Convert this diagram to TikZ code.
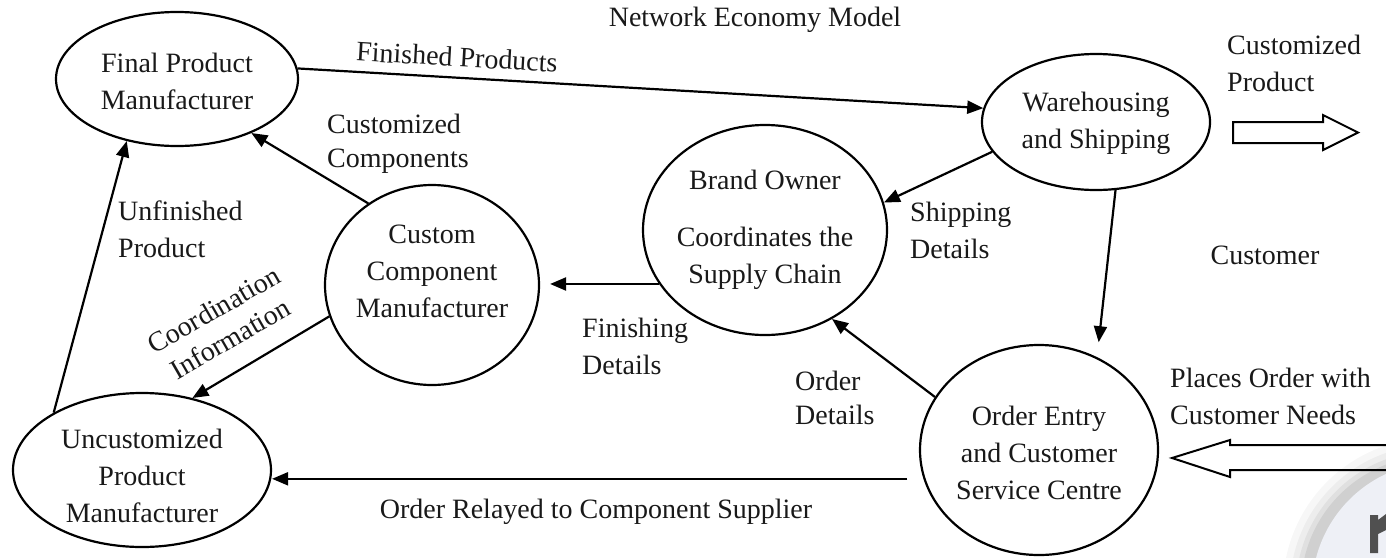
\documentclass[tikz,border=0pt]{standalone}
\usepackage{fontspec}
\setmainfont{Liberation Serif}
\usetikzlibrary{shapes.geometric,arrows.meta}
\definecolor{badgefill}{HTML}{EEF0F6}
\definecolor{glyphgray}{HTML}{505050}

\begin{document}
\begin{tikzpicture}[x=1pt,y=-1pt,
  every node/.style={font=\fontsize{28}{37}\selectfont, text=black!90},
  proc/.style={draw, ellipse, line width=2.2pt, inner sep=0pt},
  ptext/.style={align=center, inner sep=0pt},
  lbl/.style={align=left, anchor=west, inner sep=0pt},
  arr/.style={line width=2.2pt, -{Triangle[length=16pt,width=13pt]}},
  blockarrow/.style={line width=2pt, line join=miter}
]
\useasboundingbox (0,0) rectangle (1386,557);
\fill[white] (0,0) rectangle (1386,557);

% processes
\node[proc, minimum width=242pt, minimum height=134pt,
  label={[ptext, yshift=-2pt]center:{Final Product\\Manufacturer}}] (fpm) at (177,79) {};
\node[proc, minimum width=258pt, minimum height=154pt,
  label={[ptext, yshift=-6pt]center:{Uncustomized\\Product\\Manufacturer}}] (upm) at (142,470) {};
\node[proc, minimum width=214pt, minimum height=200pt,
  label={[ptext, yshift=14pt]center:{Custom\\Component\\Manufacturer}}] (ccm) at (432,285) {};
\node[proc, minimum width=244pt, minimum height=210pt,
  label={[ptext]center:{Brand Owner\\[20pt]Coordinates the\\Supply Chain}}] (bo) at (765,230) {};
\node[proc, minimum width=228pt, minimum height=136pt,
  label={[ptext, yshift=-1pt]center:{Warehousing\\and Shipping}}] (ws) at (1096,122) {};
\node[proc, minimum width=238pt, minimum height=210pt,
  label={[ptext, yshift=-3pt]center:{Order Entry\\and Customer\\Service Centre}}] (oe) at (1039,450) {};

% flows
\draw[arr] (fpm.5) -- (ws.173);
\draw[arr] (ccm.128) -- (fpm.-36);
\draw[arr] (upm.147) -- (fpm.231);
\draw[arr] (ccm.197) -- (upm.55);
\draw[arr, shorten >=10pt] (bo.207) -- (bo.207 -| ccm.east);
\draw[arr] (ws.196) -- (bo.13);
\draw[arr, shorten >=15pt] (ws.-74) -- (oe.58);
\draw[arr] (oe.153) -- (bo.-53);
\draw[arr, shorten <=16pt] (oe.194) -- (oe.194 -| upm.east);

% customer side block arrows
\draw[blockarrow] (1233,122) -- (1323,122) -- (1323,115) -- (1358,132.5)
  -- (1323,150) -- (1323,143) -- (1233,143) -- cycle;
\draw[blockarrow] (1400,445) -- (1230,445) -- (1230,440) -- (1172,458)
  -- (1230,477) -- (1230,470) -- (1400,470);

% labels
\node (title) at (755,20) {Network Economy Model};
\node[inner sep=0pt, rotate=-3.3] (t-fin) at (457,57) {Finished Products};
\node[lbl] (t-cp) at (1227,63) {Customized\\Product};
\node[lbl, font=\fontsize{28}{34}\selectfont] (t-cc) at (327,144) {Customized\\Components};
\node[lbl] (t-uf) at (118,229) {Unfinished\\Product};
\node[inner sep=0pt, align=center, rotate=30, font=\fontsize{28}{33}\selectfont]
  (t-ci) at (222,324) {Coordination\\Information};
\node[lbl] (t-sd) at (910,230) {Shipping\\Details};
\node (t-cu) at (1265,255) {Customer};
\node[lbl] (t-fd) at (582,346) {Finishing\\Details};
\node[lbl, font=\fontsize{28}{34}\selectfont] (t-od) at (795,398) {Order\\Details};
\node[lbl] (t-po) at (1170,396) {Places Order with\\Customer Needs};
\node (t-or) at (596,512) {Order Relayed to Component Supplier};

% corner badge
\begin{scope}
  \clip (0,0) rectangle (1386,557);
  \foreach \r/\o in {150/0.03, 143/0.04, 137/0.05, 132/0.07}
    \fill[black, opacity=\o] (1433,588) circle (\r);
  \fill[badgefill] (1440,590) circle (128);
  \fill[glyphgray] (1370,515) -- (1378,515) -- (1378,520) -- (1386,514)
    -- (1386,530) -- (1378,534) -- (1378,553) -- (1370,553) -- cycle;
\end{scope}
\end{tikzpicture}
\end{document}
